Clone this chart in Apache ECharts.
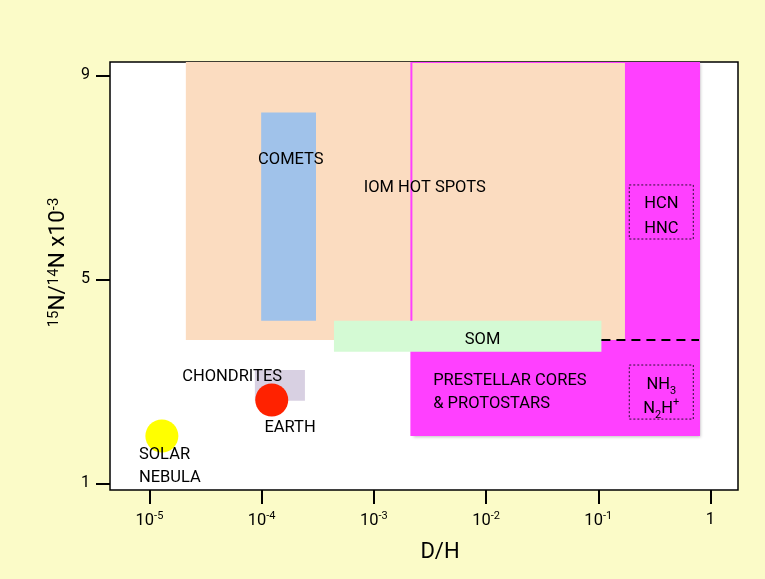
<!DOCTYPE html>
<html>
<head>
<meta charset="utf-8">
<script src="https://cdn.jsdelivr.net/npm/echarts@6/dist/echarts.min.js"></script>
<style>
  html, body { margin: 0; padding: 0; background: #fbfbc8; }
  #chart { width: 765px; height: 579px; }
</style>
</head>
<body>
<div id="chart"></div>
<script>
// Axis ranges and ticks (x: D/H, log scale; y: 15N/14N x10^-3)
const xRange = [4.45e-6, 1.76];
const yRange = [0.87, 9.26];
const xTicks = [1e-5, 1e-4, 1e-3, 1e-2, 1e-1, 1];
const xTickLabels = ['10{s|-5}', '10{s|-4}', '10{s|-3}', '10{s|-2}', '10{s|-1}', '1'];
const yTicks = [1, 5, 9];

// Regions: [D/H min, D/H max, 15N/14N min, 15N/14N max]
const prestellar = [2.16e-3, 0.791, 1.95, 9.26];
const iomHotSpots = [2.11e-5, 0.173, 3.81, 9.26];
const comets = [9.9e-5, 3.05e-4, 4.19, 8.27];
const som = [4.41e-4, 0.1067, 3.58, 4.19];
const chondrites = [8.7e-5, 2.43e-4, 2.62, 3.22];
const hcnBox = [0.189, 0.703, 5.79, 6.85];
const nh3Box = [0.189, 0.703, 2.26, 3.32];

// Boundary between HCN/HNC and NH3/N2H+ values
const moleculeSplit = [[0.1067, 3.81], [0.791, 3.81]];

// Points: [D/H, 15N/14N]
const earth = [1.23e-4, 2.635];
const solarNebula = [1.29e-5, 1.928];

// Text annotations: [D/H, 15N/14N, text, align]
const notes = [
  [1.82e-4, 7.40, 'COMETS', 'center'],
  [2.84e-3, 6.84, 'IOM HOT SPOTS', 'center'],
  [9.3e-3, 3.87, 'SOM', 'center'],
  [3.38e-3, 2.83, 'PRESTELLAR CORES\n& PROTOSTARS', 'left'],
  [5.46e-5, 3.13, 'CHONDRITES', 'center'],
  [1.79e-4, 2.14, 'EARTH', 'center'],
  [8.06e-6, 1.39, 'SOLAR\nNEBULA', 'left']
];
const hcnText = 'HCN\nHNC';
const nh3Text = 'NH{b|3}\nN{b|2}H{p|+}';

const FONT = 'Roboto, "Noto Sans", sans-serif';
const TEXT_DROP = 2.5; // nudges glyphs down so caps sit centred on their anchor

function rectSeries(region, z, style) {
  return {
    type: 'custom',
    z: z,
    clip: true,
    encode: { x: [0, 1], y: [2, 3] },
    data: [region],
    renderItem: function (params, api) {
      const a = api.coord([api.value(0), api.value(3)]);
      const b = api.coord([api.value(1), api.value(2)]);
      return {
        type: 'rect',
        shape: { x: a[0], y: a[1], width: b[0] - a[0], height: b[1] - a[1] },
        style: style
      };
    }
  };
}

function boxSeries(region, text, lineHeight) {
  return {
    type: 'custom',
    z: 6,
    encode: { x: [0, 1], y: [2, 3] },
    data: [region],
    renderItem: function (params, api) {
      const a = api.coord([api.value(0), api.value(3)]);
      const b = api.coord([api.value(1), api.value(2)]);
      return {
        type: 'group',
        children: [
          {
            type: 'rect',
            shape: { x: a[0], y: a[1], width: b[0] - a[0], height: b[1] - a[1] },
            style: { fill: 'none', stroke: '#2a1030', lineWidth: 1, lineDash: [2, 2] }
          },
          {
            type: 'text',
            x: (a[0] + b[0]) / 2,
            y: (a[1] + b[1]) / 2 + 2 + TEXT_DROP,
            style: {
              text: text,
              fill: '#000',
              font: '16.5px ' + FONT,
              align: 'center',
              verticalAlign: 'middle',
              lineHeight: lineHeight,
              rich: {
                b: { fontSize: 11, verticalAlign: 'bottom', lineHeight: lineHeight, padding: [8, 0, 0, 0], fontFamily: 'Roboto' },
                p: { fontSize: 11, verticalAlign: 'top', lineHeight: lineHeight, padding: [0, 0, 8, 0], fontFamily: 'Roboto' }
              }
            }
          }
        ]
      };
    }
  };
}

const chart = echarts.init(document.getElementById('chart'), null, { renderer: 'canvas' });

chart.setOption({
  backgroundColor: '#fbfbc8',
  animation: false,
  grid: {
    left: 110, right: 27, top: 62, bottom: 89,
    show: true, backgroundColor: '#ffffff', borderColor: '#000000', borderWidth: 1.5
  },
  xAxis: {
    type: 'log',
    logBase: 10,
    min: xRange[0],
    max: xRange[1],
    name: 'D/H',
    nameLocation: 'middle',
    nameGap: 51,
    nameTextStyle: { fontFamily: FONT, fontSize: 22, color: '#000', padding: [0, 0, 0, 32] },
    axisLine: { show: false },
    splitLine: { show: false },
    axisTick: { show: true, customValues: xTicks, length: 14, lineStyle: { color: '#000', width: 2 } },
    axisLabel: {
      customValues: xTicks,
      margin: 21,
      color: '#000',
      fontFamily: FONT,
      fontSize: 16.5,
      formatter: function (v) {
        const i = xTicks.findIndex(t => Math.abs(Math.log10(t) - Math.log10(v)) < 1e-6);
        return i >= 0 ? xTickLabels[i] : '';
      },
      rich: {
        s: { fontSize: 11, verticalAlign: 'top', padding: [0, 0, 8, 0], fontFamily: FONT, color: '#000' }
      }
    }
  },
  yAxis: {
    type: 'value',
    min: yRange[0],
    max: yRange[1],
    name: '{s|15}N/{s|14}N x10{s|-3}',
    nameLocation: 'middle',
    nameGap: 36,
    nameRotate: 90,
    nameTextStyle: {
      fontFamily: FONT, fontSize: 22.5, color: '#000', padding: [0, 0, 0, 27],
      rich: { s: { fontSize: 15, verticalAlign: 'top', padding: [0, 0, 9, 0], fontFamily: FONT, color: '#000' } }
    },
    axisLine: { show: false },
    splitLine: { show: false },
    axisTick: { show: true, customValues: yTicks, length: 14, lineStyle: { color: '#000', width: 2 } },
    axisLabel: { customValues: yTicks, margin: 20, color: '#000', fontFamily: FONT, fontSize: 16, padding: [4, 0, 0, 0] }
  },
  series: [
    rectSeries(prestellar, 1, { fill: '#ff40ff', shadowBlur: 3, shadowOffsetX: 2, shadowOffsetY: 2, shadowColor: 'rgba(0,0,0,0.25)' }),
    rectSeries(iomHotSpots, 2, { fill: '#fbdcc0' }),
    rectSeries(comets, 3, { fill: '#a0c2ea' }),
    rectSeries(prestellar, 4, { fill: 'none', stroke: '#ff40ff', lineWidth: 2 }),
    rectSeries(som, 5, { fill: '#d4fad4' }),
    rectSeries(chondrites, 3, { fill: '#d8d0e2' }),
    {
      type: 'line',
      z: 6,
      data: moleculeSplit,
      symbol: 'none',
      lineStyle: { color: '#000', width: 2, type: [9, 6] }
    },
    boxSeries(hcnBox, hcnText, 25),
    boxSeries(nh3Box, nh3Text, 24),
    {
      type: 'scatter',
      z: 7,
      symbolSize: 33,
      data: [earth],
      itemStyle: { color: '#ff2200', opacity: 1 }
    },
    {
      type: 'scatter',
      z: 7,
      symbolSize: 33,
      data: [solarNebula],
      itemStyle: { color: '#ffff00', opacity: 1 }
    },
    {
      type: 'custom',
      z: 10,
      encode: { x: 0, y: 1 },
      data: notes.map(n => [n[0], n[1]]),
      renderItem: function (params, api) {
        const n = notes[params.dataIndex];
        const p = api.coord([api.value(0), api.value(1)]);
        return {
          type: 'text',
          x: p[0],
          y: p[1] + TEXT_DROP,
          style: {
            text: n[2],
            fill: '#000',
            font: '16.5px ' + FONT,
            align: n[3],
            verticalAlign: 'middle',
            lineHeight: 23
          }
        };
      }
    }
  ]
});
</script>
</body>
</html>
